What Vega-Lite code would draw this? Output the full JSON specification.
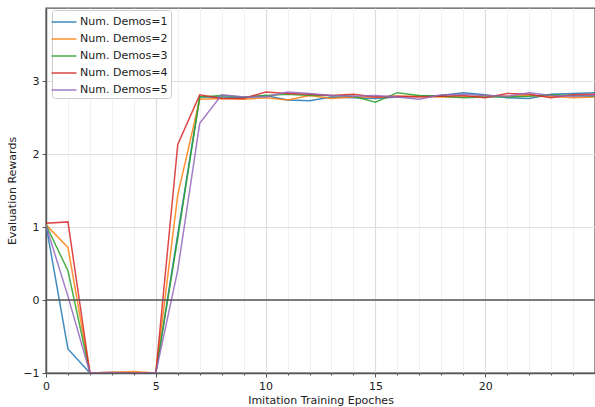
{
  "$schema": "https://vega.github.io/schema/vega-lite/v6.json",
  "autosize": "none",
  "width": 549,
  "height": 365,
  "padding": {"left": 46, "top": 8, "right": 0, "bottom": 34},
  "background": "white",
  "config": {
    "font": "DejaVu Sans",
    "view": {"stroke": "#555", "strokeWidth": 1.4},
    "axis": {"labelFont": "DejaVu Sans", "titleFont": "DejaVu Sans", "labelFontSize": 11, "titleFontSize": 11, "titleFontWeight": "normal", "labelColor": "#222", "titleColor": "#222", "domainColor": "#555", "domainWidth": 1.4, "tickColor": "#555", "labelOverlap": false}
  },
  "datasets": {
    "runs": [
      {"epoch": 0, "demos": "Num. Demos=1", "reward": 1.03},
      {"epoch": 1, "demos": "Num. Demos=1", "reward": -0.67},
      {"epoch": 2, "demos": "Num. Demos=1", "reward": -1.0},
      {"epoch": 3, "demos": "Num. Demos=1", "reward": -0.99},
      {"epoch": 4, "demos": "Num. Demos=1", "reward": -1.0},
      {"epoch": 5, "demos": "Num. Demos=1", "reward": -1.0},
      {"epoch": 6, "demos": "Num. Demos=1", "reward": 0.9},
      {"epoch": 7, "demos": "Num. Demos=1", "reward": 2.78},
      {"epoch": 8, "demos": "Num. Demos=1", "reward": 2.78},
      {"epoch": 9, "demos": "Num. Demos=1", "reward": 2.77},
      {"epoch": 10, "demos": "Num. Demos=1", "reward": 2.8},
      {"epoch": 11, "demos": "Num. Demos=1", "reward": 2.74},
      {"epoch": 12, "demos": "Num. Demos=1", "reward": 2.73},
      {"epoch": 13, "demos": "Num. Demos=1", "reward": 2.78},
      {"epoch": 14, "demos": "Num. Demos=1", "reward": 2.77},
      {"epoch": 15, "demos": "Num. Demos=1", "reward": 2.76},
      {"epoch": 16, "demos": "Num. Demos=1", "reward": 2.78},
      {"epoch": 17, "demos": "Num. Demos=1", "reward": 2.79},
      {"epoch": 18, "demos": "Num. Demos=1", "reward": 2.8},
      {"epoch": 19, "demos": "Num. Demos=1", "reward": 2.84},
      {"epoch": 20, "demos": "Num. Demos=1", "reward": 2.81},
      {"epoch": 21, "demos": "Num. Demos=1", "reward": 2.77},
      {"epoch": 22, "demos": "Num. Demos=1", "reward": 2.76},
      {"epoch": 23, "demos": "Num. Demos=1", "reward": 2.82},
      {"epoch": 24, "demos": "Num. Demos=1", "reward": 2.83},
      {"epoch": 25, "demos": "Num. Demos=1", "reward": 2.84},
      {"epoch": 0, "demos": "Num. Demos=2", "reward": 1.03},
      {"epoch": 1, "demos": "Num. Demos=2", "reward": 0.72},
      {"epoch": 2, "demos": "Num. Demos=2", "reward": -1.0},
      {"epoch": 3, "demos": "Num. Demos=2", "reward": -0.99},
      {"epoch": 4, "demos": "Num. Demos=2", "reward": -0.98},
      {"epoch": 5, "demos": "Num. Demos=2", "reward": -1.0},
      {"epoch": 6, "demos": "Num. Demos=2", "reward": 1.44},
      {"epoch": 7, "demos": "Num. Demos=2", "reward": 2.75},
      {"epoch": 8, "demos": "Num. Demos=2", "reward": 2.76},
      {"epoch": 9, "demos": "Num. Demos=2", "reward": 2.75},
      {"epoch": 10, "demos": "Num. Demos=2", "reward": 2.77},
      {"epoch": 11, "demos": "Num. Demos=2", "reward": 2.74},
      {"epoch": 12, "demos": "Num. Demos=2", "reward": 2.8},
      {"epoch": 13, "demos": "Num. Demos=2", "reward": 2.76},
      {"epoch": 14, "demos": "Num. Demos=2", "reward": 2.78},
      {"epoch": 15, "demos": "Num. Demos=2", "reward": 2.78},
      {"epoch": 16, "demos": "Num. Demos=2", "reward": 2.79},
      {"epoch": 17, "demos": "Num. Demos=2", "reward": 2.79},
      {"epoch": 18, "demos": "Num. Demos=2", "reward": 2.78},
      {"epoch": 19, "demos": "Num. Demos=2", "reward": 2.78},
      {"epoch": 20, "demos": "Num. Demos=2", "reward": 2.8},
      {"epoch": 21, "demos": "Num. Demos=2", "reward": 2.79},
      {"epoch": 22, "demos": "Num. Demos=2", "reward": 2.8},
      {"epoch": 23, "demos": "Num. Demos=2", "reward": 2.79},
      {"epoch": 24, "demos": "Num. Demos=2", "reward": 2.77},
      {"epoch": 25, "demos": "Num. Demos=2", "reward": 2.78},
      {"epoch": 0, "demos": "Num. Demos=3", "reward": 1.03},
      {"epoch": 1, "demos": "Num. Demos=3", "reward": 0.4},
      {"epoch": 2, "demos": "Num. Demos=3", "reward": -1.0},
      {"epoch": 3, "demos": "Num. Demos=3", "reward": -1.0},
      {"epoch": 4, "demos": "Num. Demos=3", "reward": -1.0},
      {"epoch": 5, "demos": "Num. Demos=3", "reward": -1.0},
      {"epoch": 6, "demos": "Num. Demos=3", "reward": 0.85},
      {"epoch": 7, "demos": "Num. Demos=3", "reward": 2.78},
      {"epoch": 8, "demos": "Num. Demos=3", "reward": 2.8},
      {"epoch": 9, "demos": "Num. Demos=3", "reward": 2.78},
      {"epoch": 10, "demos": "Num. Demos=3", "reward": 2.8},
      {"epoch": 11, "demos": "Num. Demos=3", "reward": 2.82},
      {"epoch": 12, "demos": "Num. Demos=3", "reward": 2.8},
      {"epoch": 13, "demos": "Num. Demos=3", "reward": 2.8},
      {"epoch": 14, "demos": "Num. Demos=3", "reward": 2.79},
      {"epoch": 15, "demos": "Num. Demos=3", "reward": 2.71},
      {"epoch": 16, "demos": "Num. Demos=3", "reward": 2.84},
      {"epoch": 17, "demos": "Num. Demos=3", "reward": 2.8},
      {"epoch": 18, "demos": "Num. Demos=3", "reward": 2.79},
      {"epoch": 19, "demos": "Num. Demos=3", "reward": 2.77},
      {"epoch": 20, "demos": "Num. Demos=3", "reward": 2.78},
      {"epoch": 21, "demos": "Num. Demos=3", "reward": 2.78},
      {"epoch": 22, "demos": "Num. Demos=3", "reward": 2.79},
      {"epoch": 23, "demos": "Num. Demos=3", "reward": 2.81},
      {"epoch": 24, "demos": "Num. Demos=3", "reward": 2.8},
      {"epoch": 25, "demos": "Num. Demos=3", "reward": 2.79},
      {"epoch": 0, "demos": "Num. Demos=4", "reward": 1.05},
      {"epoch": 1, "demos": "Num. Demos=4", "reward": 1.07},
      {"epoch": 2, "demos": "Num. Demos=4", "reward": -1.0},
      {"epoch": 3, "demos": "Num. Demos=4", "reward": -1.0},
      {"epoch": 4, "demos": "Num. Demos=4", "reward": -1.0},
      {"epoch": 5, "demos": "Num. Demos=4", "reward": -1.0},
      {"epoch": 6, "demos": "Num. Demos=4", "reward": 2.13},
      {"epoch": 7, "demos": "Num. Demos=4", "reward": 2.81},
      {"epoch": 8, "demos": "Num. Demos=4", "reward": 2.76},
      {"epoch": 9, "demos": "Num. Demos=4", "reward": 2.76},
      {"epoch": 10, "demos": "Num. Demos=4", "reward": 2.85},
      {"epoch": 11, "demos": "Num. Demos=4", "reward": 2.83},
      {"epoch": 12, "demos": "Num. Demos=4", "reward": 2.82},
      {"epoch": 13, "demos": "Num. Demos=4", "reward": 2.8},
      {"epoch": 14, "demos": "Num. Demos=4", "reward": 2.82},
      {"epoch": 15, "demos": "Num. Demos=4", "reward": 2.78},
      {"epoch": 16, "demos": "Num. Demos=4", "reward": 2.79},
      {"epoch": 17, "demos": "Num. Demos=4", "reward": 2.78},
      {"epoch": 18, "demos": "Num. Demos=4", "reward": 2.79},
      {"epoch": 19, "demos": "Num. Demos=4", "reward": 2.8},
      {"epoch": 20, "demos": "Num. Demos=4", "reward": 2.77},
      {"epoch": 21, "demos": "Num. Demos=4", "reward": 2.83},
      {"epoch": 22, "demos": "Num. Demos=4", "reward": 2.82},
      {"epoch": 23, "demos": "Num. Demos=4", "reward": 2.77},
      {"epoch": 24, "demos": "Num. Demos=4", "reward": 2.81},
      {"epoch": 25, "demos": "Num. Demos=4", "reward": 2.82},
      {"epoch": 0, "demos": "Num. Demos=5", "reward": 1.02},
      {"epoch": 1, "demos": "Num. Demos=5", "reward": 0.05},
      {"epoch": 2, "demos": "Num. Demos=5", "reward": -1.0},
      {"epoch": 3, "demos": "Num. Demos=5", "reward": -1.0},
      {"epoch": 4, "demos": "Num. Demos=5", "reward": -1.0},
      {"epoch": 5, "demos": "Num. Demos=5", "reward": -1.0},
      {"epoch": 6, "demos": "Num. Demos=5", "reward": 0.41},
      {"epoch": 7, "demos": "Num. Demos=5", "reward": 2.42},
      {"epoch": 8, "demos": "Num. Demos=5", "reward": 2.81},
      {"epoch": 9, "demos": "Num. Demos=5", "reward": 2.78},
      {"epoch": 10, "demos": "Num. Demos=5", "reward": 2.78},
      {"epoch": 11, "demos": "Num. Demos=5", "reward": 2.85},
      {"epoch": 12, "demos": "Num. Demos=5", "reward": 2.83},
      {"epoch": 13, "demos": "Num. Demos=5", "reward": 2.8},
      {"epoch": 14, "demos": "Num. Demos=5", "reward": 2.79},
      {"epoch": 15, "demos": "Num. Demos=5", "reward": 2.8},
      {"epoch": 16, "demos": "Num. Demos=5", "reward": 2.78},
      {"epoch": 17, "demos": "Num. Demos=5", "reward": 2.75},
      {"epoch": 18, "demos": "Num. Demos=5", "reward": 2.81},
      {"epoch": 19, "demos": "Num. Demos=5", "reward": 2.82},
      {"epoch": 20, "demos": "Num. Demos=5", "reward": 2.8},
      {"epoch": 21, "demos": "Num. Demos=5", "reward": 2.79},
      {"epoch": 22, "demos": "Num. Demos=5", "reward": 2.84},
      {"epoch": 23, "demos": "Num. Demos=5", "reward": 2.8},
      {"epoch": 24, "demos": "Num. Demos=5", "reward": 2.79},
      {"epoch": 25, "demos": "Num. Demos=5", "reward": 2.8}
    ],
    "zero": [{"y": 0}]
  },
  "layer": [
    {
      "data": {"name": "runs"},
      "mark": {"type": "line", "strokeWidth": 1.5, "opacity": 0.85, "clip": true},
      "encoding": {
        "x": {
          "field": "epoch", "type": "quantitative",
          "scale": {"domain": [0, 25], "nice": false, "zero": false},
          "axis": {
            "title": "Imitation Training Epoches",
            "values": [0,1,2,3,4,5,6,7,8,9,10,11,12,13,14,15,16,17,18,19,20,21,22,23,24],
            "labelExpr": "datum.value % 5 === 0 ? datum.label : ''",
            "labelOverlap": false,
            "tickSize": {"condition": {"test": "datum.value % 5 === 0", "value": 4}, "value": 2},
            "gridColor": {"condition": {"test": "datum.value % 5 === 0", "value": "#dedede"}, "value": "#efefef"},
            "gridWidth": {"condition": {"test": "datum.value % 5 === 0", "value": 1.2}, "value": 0.9},
            "labelPadding": 3,
            "titlePadding": 3,
            "labelFlush": false
          }
        },
        "y": {
          "field": "reward", "type": "quantitative",
          "scale": {"domain": [-1, 4], "nice": false, "zero": false},
          "axis": {
            "title": "Evaluation Rewards",
            "values": [-1, 0, 1, 2, 3],
            "format": "d",
            "labelOverlap": false,
            "tickSize": 4,
            "gridColor": "#dedede",
            "gridWidth": 1.2,
            "labelPadding": 3,
            "titlePadding": 5,
            "labelFlush": false
          }
        },
        "color": {
          "field": "demos", "type": "nominal",
          "scale": {"domain": ["Num. Demos=1","Num. Demos=2","Num. Demos=3","Num. Demos=4","Num. Demos=5"], "range": ["#1f77b4","#ff7f0e","#2ca02c","#d62728","#9467bd"]},
          "legend": {
            "title": null,
            "orient": "none",
            "legendX": 6,
            "legendY": 2,
            "symbolType": "M-1.56,0H1.56",
            "symbolSize": 256,
            "symbolStrokeWidth": 1.5,
            "labelFontSize": 11,
            "labelFont": "DejaVu Sans",
            "labelColor": "#222",
            "labelOffset": 7,
            "rowPadding": 3,
            "padding": 3,
            "strokeColor": "#ccc",
            "fillColor": "white",
            "cornerRadius": 3
          }
        }
      }
    },
    {
      "data": {"name": "zero"},
      "mark": {"type": "rule", "color": "#555", "strokeWidth": 1.5},
      "encoding": {"y": {"field": "y", "type": "quantitative"}}
    }
  ]
}
